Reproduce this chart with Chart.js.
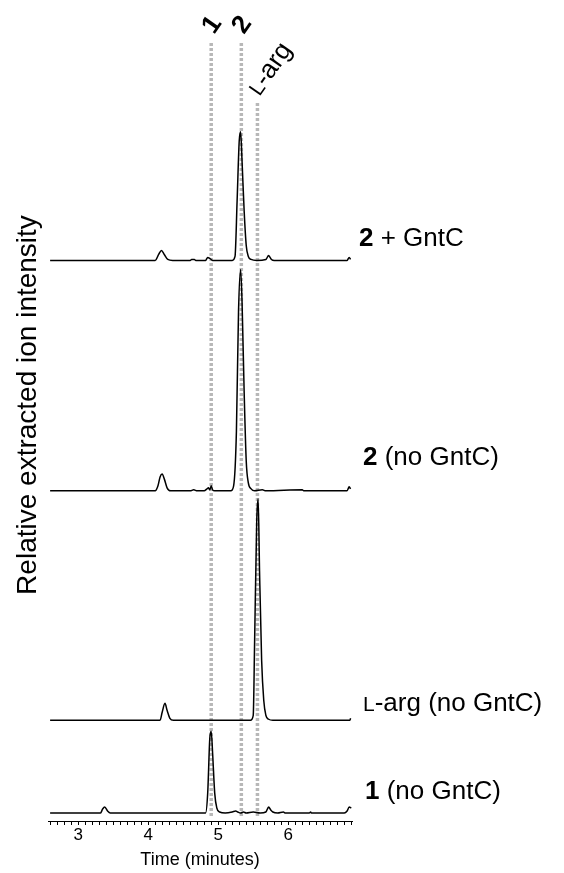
<!DOCTYPE html>
<html><head><meta charset="utf-8">
<script src="https://cdn.jsdelivr.net/npm/chart.js@4/dist/chart.umd.min.js"></script>
<style>html,body{margin:0;padding:0;background:#fff}canvas{display:block}</style>
</head><body><canvas id="c" width="564" height="873"></canvas>
<script>
// ---- data (time in minutes, relative intensity) ----
const xTickLabels = [3, 4, 5, 6];
const markerTimes = [4.90, 5.33, 5.56];
const markerLabels = ['1', '2', 'L-arg'];

const trace2GntC = [[2.6,0],[4.1,0],[4.15,6],[4.19,10],[4.23,6],[4.28,1],[4.35,0],[4.6,0],[4.62,1],[4.66,1],[4.68,0],[4.82,0],[4.85,3],[4.88,2],[4.92,0],[5.2,0],[5.24,4],[5.27,60],[5.30,120],[5.32,129],[5.34,100],[5.37,50],[5.40,15],[5.43,4],[5.47,1],[5.55,0],[5.68,1],[5.72,5],[5.74,3],[5.76,1],[5.8,0],[6.84,0],[6.87,3],[6.89,1]];
const trace2NoGntC = [[2.6,0],[4.1,0],[4.14,5],[4.17,14],[4.2,17],[4.23,12],[4.27,3],[4.32,0],[4.6,0],[4.65,1],[4.7,0],[4.8,0],[4.84,2],[4.86,3],[4.88,1],[4.9,5],[4.92,1],[4.95,0],[5.18,0],[5.22,5],[5.26,60],[5.29,180],[5.32,222],[5.34,190],[5.37,100],[5.40,30],[5.43,8],[5.47,2],[5.52,0],[5.63,1],[5.68,0],[6.2,1],[6.22,0],[6.84,0],[6.87,4],[6.89,2]];
const traceLArg = [[2.6,0],[4.17,0],[4.2,8],[4.24,17],[4.27,10],[4.31,2],[4.36,0],[5.46,0],[5.5,5],[5.52,80],[5.55,200],[5.57,222],[5.59,150],[5.62,60],[5.65,20],[5.68,5],[5.72,1],[5.78,0],[6.88,0],[6.89,2]];
const trace1NoGntC = [[2.6,0],[3.32,0],[3.35,4],[3.38,6],[3.42,2],[3.46,0],[4.82,0],[4.85,20],[4.88,75],[4.90,82],[4.92,60],[4.95,20],[4.98,5],[5.02,1],[5.1,0],[5.2,1],[5.25,2],[5.28,1],[5.32,0],[5.36,1],[5.4,0],[5.5,1],[5.6,0],[5.68,1],[5.72,6],[5.75,3],[5.78,1],[5.85,0],[5.93,1],[5.96,0],[6.3,0],[6.32,1],[6.33,0],[6.8,0],[6.84,2],[6.87,6],[6.9,5]];

const traces = [trace2GntC, trace2NoGntC, traceLArg, trace1NoGntC];
const traceLabels = [
  [['2', 'bold'], [' + GntC', 'normal']],
  [['2', 'bold'], [' (no GntC)', 'normal']],
  [['L', 'sc'], ['-arg (no GntC)', 'normal']],
  [['1', 'bold'], [' (no GntC)', 'normal']]
];

// ---- layout (vertical stacking offsets, in axis units = px) ----
const traceOffsets = [562, 331, 101, 8];
const labelDx = [7, 11, 11, 13];
const labelDy = [-14, -26, -9, -14];

const FONT = '"Liberation Sans", Arial, Helvetica, sans-serif';

function drawRich(ctx, parts, x, y, size) {
  let cx = x;
  for (const [txt, st] of parts) {
    if (st === 'bold') ctx.font = 'bold ' + size + 'px ' + FONT;
    else if (st === 'sc') ctx.font = Math.round(size * 0.8) + 'px ' + FONT;
    else ctx.font = size + 'px ' + FONT;
    ctx.fillText(txt, cx, y);
    cx += ctx.measureText(txt).width;
  }
}

const overlay = {
  id: 'overlay',
  beforeDatasetsDraw(chart) {
    const ctx = chart.ctx, xs = chart.scales.x, ca = chart.chartArea;
    ctx.save();
    ctx.strokeStyle = '#b8b8b8';
    ctx.lineWidth = 3.5;
    ctx.setLineDash([3, 2]);
    markerTimes.forEach((t, i) => {
      const px = xs.getPixelForValue(t);
      ctx.beginPath();
      ctx.moveTo(px, ca.top + (i === 2 ? 63 : 3));
      ctx.lineTo(px, ca.bottom - 5);
      ctx.stroke();
    });
    ctx.restore();
  },
  afterDraw(chart) {
    const ctx = chart.ctx, xs = chart.scales.x, ys = chart.scales.y, ca = chart.chartArea;
    ctx.save();
    ctx.fillStyle = '#000';
    ctx.textBaseline = 'alphabetic';
    ctx.textAlign = 'left';
    traceLabels.forEach((parts, i) => {
      const y = ys.getPixelForValue(traceOffsets[i]) + labelDy[i];
      drawRich(ctx, parts, ca.right + labelDx[i], y, 26);
    });
    // rotated marker labels
    const rot = -55 * Math.PI / 180;
    markerLabels.forEach((lab, i) => {
      const px = xs.getPixelForValue(markerTimes[i]);
      ctx.save();
      if (i < 2) {
        ctx.translate(px + 1, 25);
        ctx.rotate(rot);
        ctx.font = 'bold 26px ' + FONT;
        ctx.textAlign = 'center';
        ctx.textBaseline = 'middle';
        ctx.fillText(lab, 0, 0);
      } else {
        ctx.translate(px + 2, 97);
        ctx.rotate(rot);
        ctx.textBaseline = 'alphabetic';
        drawRich(ctx, [['L', 'sc'], ['-arg', 'normal']], 0, 0, 26);
      }
      ctx.restore();
    });
    // y title
    ctx.save();
    ctx.translate(28, 405);
    ctx.rotate(-Math.PI / 2);
    ctx.font = '28px ' + FONT;
    ctx.textAlign = 'center';
    ctx.textBaseline = 'middle';
    ctx.fillText('Relative extracted ion intensity', 0, 0);
    ctx.restore();
    ctx.restore();
  }
};

new Chart(document.getElementById('c'), {
  type: 'line',
  data: {
    datasets: traces.map((tr, i) => ({
      data: tr.map(p => ({ x: p[0], y: p[1] + traceOffsets[i] })),
      borderColor: '#000',
      borderWidth: 1.5,
      pointRadius: 0,
      cubicInterpolationMode: 'monotone',
      fill: false
    }))
  },
  options: {
    responsive: false,
    animation: false,
    events: [],
    layout: { padding: { left: 48, right: 212, top: 40, bottom: 4 } },
    plugins: { legend: { display: false }, tooltip: { enabled: false } },
    scales: {
      x: {
        type: 'linear',
        min: 2.57,
        max: 6.91,
        afterBuildTicks(scale) {
          const t = [];
          for (let i = 26; i <= 69; i++) t.push({ value: i / 10 });
          scale.ticks = t;
        },
        ticks: {
          autoSkip: false,
          maxRotation: 0,
          padding: 2,
          color: '#000',
          font: { family: FONT, size: 17, lineHeight: 1 },
          callback(v) {
            const r = Math.round(v * 10) / 10;
            return xTickLabels.includes(r) ? String(r) : '';
          }
        },
        grid: { drawOnChartArea: false, drawTicks: true, tickLength: 4, color: '#000', lineWidth: 1 },
        border: { display: true, color: '#000', width: 1 },
        title: { display: true, text: 'Time (minutes)', color: '#000', font: { family: FONT, size: 18, lineHeight: 1 }, padding: { top: 5, bottom: 0 } }
      },
      y: { display: false, min: 0, max: 783 }
    }
  },
  plugins: [overlay]
});
</script>
</body></html>
